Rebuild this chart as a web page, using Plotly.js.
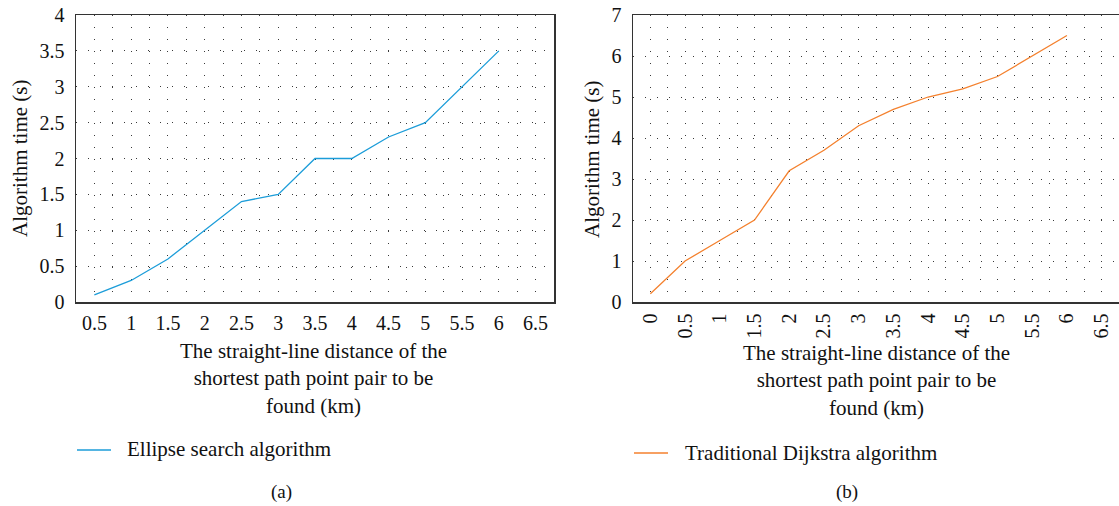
<!DOCTYPE html>
<html>
<head>
<meta charset="utf-8">
<script src="https://cdn.plot.ly/plotly-3.0.1.min.js"></script>
<style>html,body{margin:0;padding:0;background:#fff;}#chart{width:1119px;height:506px;}</style>
</head>
<body>
<div id="chart"></div>
<script>
// Data
const distA = [0.5, 1, 1.5, 2, 2.5, 3, 3.5, 4, 4.5, 5, 5.5, 6];
const ellipseTime = [0.1, 0.3, 0.6, 1.0, 1.4, 1.5, 2.0, 2.0, 2.3, 2.5, 3.0, 3.5];
const distB = [0, 0.5, 1, 1.5, 2, 2.5, 3, 3.5, 4, 4.5, 5, 5.5, 6];
const dijkstraTime = [0.2, 1.0, 1.5, 2.0, 3.2, 3.7, 4.3, 4.7, 5.0, 5.2, 5.5, 6.0, 6.5];
const seriesNames = ['Ellipse search algorithm', 'Traditional Dijkstra algorithm'];
const xTitle = 'The straight-line distance of the<br>shortest path point pair to be<br>found (km)';
const yTitle = 'Algorithm time (s)';
const panelLabels = ['(a)', '(b)'];

const FONT = 'Liberation Serif, Times New Roman, serif';
const BLUE = '#1c9dd9';
const ORANGE = '#f4812e';
const W = 1119, H = 506;
const px = v => v / W;
const py = v => 1 - v / H;

const dot = '1px,11px';
const gridCol = '#3a3a3a';

function xAxis(domain, range, mirror, angle) {
  return {
    domain: domain, range: range, type: 'linear', dtick: 0.5, tick0: 0,
    showgrid: true, gridcolor: gridCol, gridwidth: 1, griddash: dot,
    minor: {dtick: 0.25, tick0: 0, showgrid: true, gridcolor: gridCol, gridwidth: 1, griddash: dot, ticks: ''},
    zeroline: false, showline: true, linecolor: '#333', linewidth: 1.5, mirror: mirror,
    ticks: '', tickangle: angle, ticklabelstandoff: 2,
    tickfont: {family: FONT, size: 20, color: '#111'}, fixedrange: true
  };
}
function yAxis(domain, range, dt, mirror) {
  return {
    domain: domain, range: range, dtick: dt, tick0: 0,
    showgrid: true, gridcolor: gridCol, gridwidth: 1, griddash: dot,
    zeroline: false, showline: true, linecolor: '#333', linewidth: 1.5, mirror: mirror,
    ticks: '', ticklabelstandoff: 6,
    tickfont: {family: FONT, size: 20, color: '#111'}, fixedrange: true
  };
}

const yDom = [py(302), py(15)];

const traces = [
  {x: distA, y: ellipseTime, type: 'scatter', mode: 'lines', name: seriesNames[0],
   line: {color: BLUE, width: 1.3}, xaxis: 'x', yaxis: 'y', showlegend: false},
  {x: distB, y: dijkstraTime, type: 'scatter', mode: 'lines', name: seriesNames[1],
   line: {color: ORANGE, width: 1.3}, xaxis: 'x2', yaxis: 'y2', showlegend: false}
];

const txt = (text, x, y, opts) => Object.assign({
  text: text, x: x, y: y, xref: 'paper', yref: 'paper', showarrow: false,
  font: {family: FONT, size: 21, color: '#111'}, xanchor: 'center', yanchor: 'middle'
}, opts || {});

const layout = {
  width: W, height: H,
  margin: {l: 0, r: 0, t: 0, b: 0},
  paper_bgcolor: '#fff', plot_bgcolor: '#fff',
  showlegend: false,
  xaxis: xAxis([px(76), px(554)], [0.25, 6.75], true, 0),
  yaxis: yAxis(yDom, [0, 4], 0.5, true),
  xaxis2: Object.assign(xAxis([px(633), 1], [-0.25, 6.75], true, -90), {anchor: 'y2'}),
  yaxis2: Object.assign(yAxis(yDom, [0, 7], 1, false), {anchor: 'x2'}),
  annotations: [
    txt(xTitle, px(313), py(378)),
    txt(xTitle, px(876), py(380.5)),
    txt(yTitle, px(20), py(159), {textangle: -90}),
    txt(yTitle, px(592), py(159), {textangle: -90}),
    txt(seriesNames[0], px(125), py(449), {xanchor: 'left'}),
    txt(seriesNames[1], px(683), py(453), {xanchor: 'left'}),
    txt(panelLabels[0], px(281), py(492), {font: {family: FONT, size: 19, color: '#111'}}),
    txt(panelLabels[1], px(847), py(492), {font: {family: FONT, size: 19, color: '#111'}})
  ],
  shapes: [
    {type: 'line', xref: 'paper', yref: 'paper', x0: px(77), x1: px(111), y0: py(450), y1: py(450), line: {color: BLUE, width: 1.3}},
    {type: 'line', xref: 'paper', yref: 'paper', x0: px(634), x1: px(668), y0: py(453), y1: py(453), line: {color: ORANGE, width: 1.3}}
  ]
};

Plotly.newPlot('chart', traces, layout, {displayModeBar: false, staticPlot: true});
</script>
</body>
</html>
